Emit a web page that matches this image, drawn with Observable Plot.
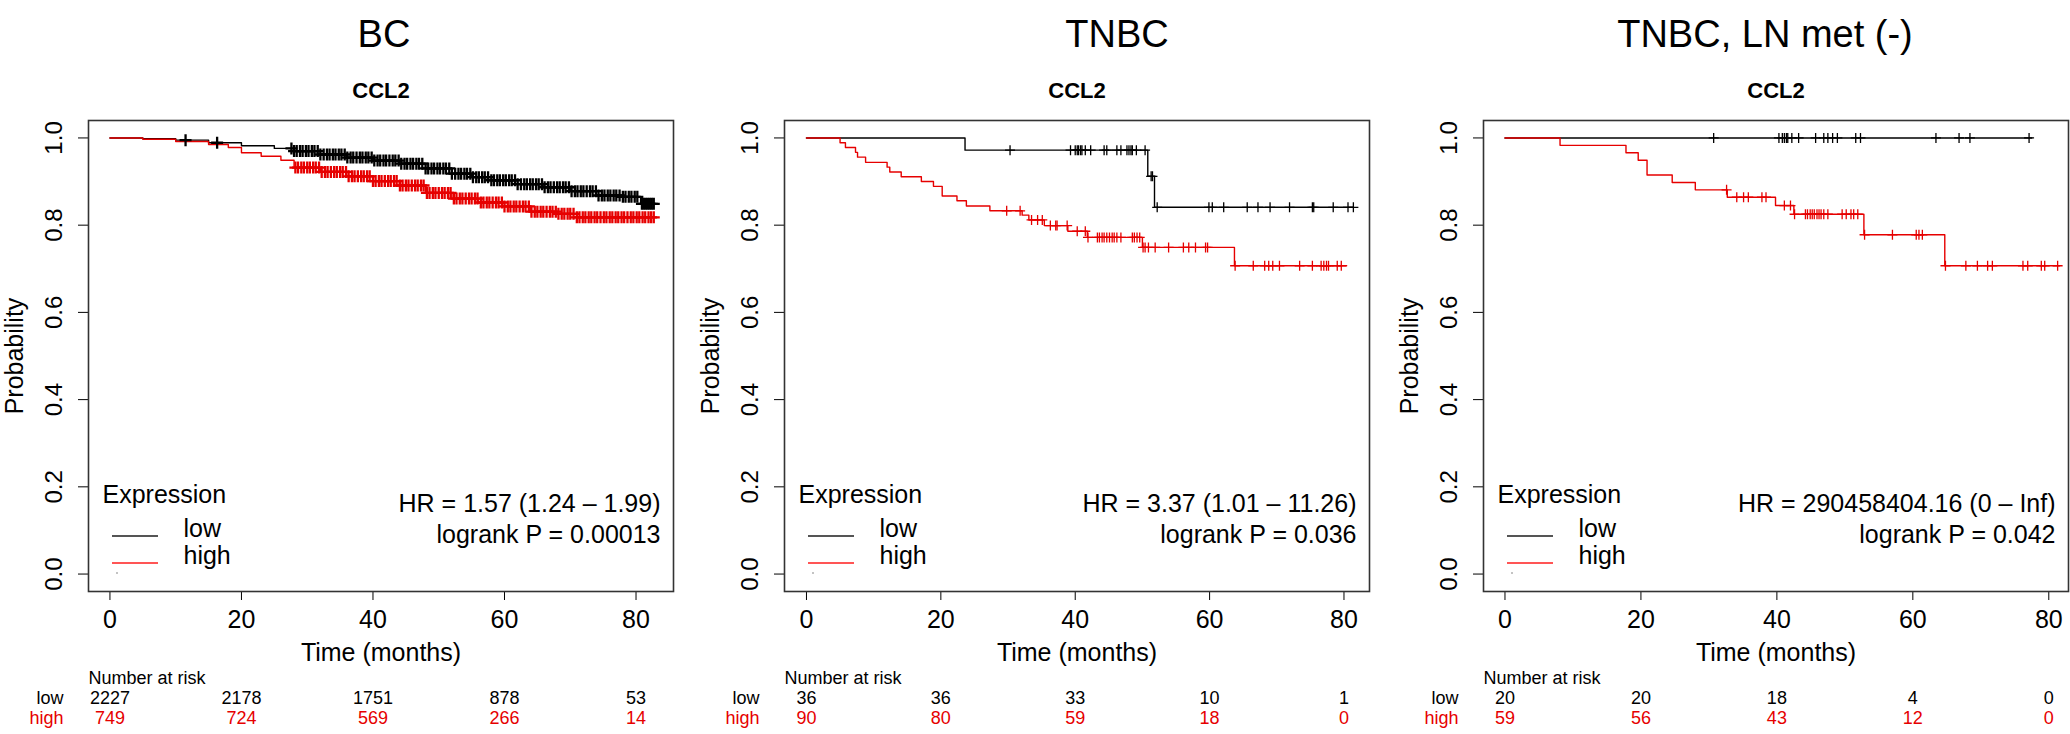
<!DOCTYPE html>
<html><head><meta charset="utf-8">
<script src="https://cdn.jsdelivr.net/npm/d3@7"></script>
<script src="https://cdn.jsdelivr.net/npm/@observablehq/plot@0.6"></script>
<style>
html,body{margin:0;padding:0;background:#fff;width:2070px;height:734px;overflow:hidden;}
#wrap{position:relative;width:2070px;height:734px;}
</style></head><body><div id="wrap"></div>
<script>
// ---------- data ----------
const timeTicks = [0, 20, 40, 60, 80];
const probTicks = [0, 0.2, 0.4, 0.6, 0.8, 1.0];
const groups = ["low", "high"];
const titles = ["BC", "TNBC", "TNBC, LN met (-)"];
const gene = "CCL2";
const hrTexts = ["HR = 1.57 (1.24 \u2013 1.99)", "HR = 3.37 (1.01 \u2013 11.26)", "HR = 290458404.16 (0 \u2013 Inf)"];
const pTexts = ["logrank P = 0.00013", "logrank P = 0.036", "logrank P = 0.042"];

// BC
const bcLow = [[0,1],[5,0.998],[10,0.995],[15,0.989],[20,0.982],[25,0.976],[28,0.970],[32,0.962],[36,0.955],[40,0.948],[44,0.941],[48,0.930],[52,0.918],[55,0.910],[58,0.903],[62,0.894],[66,0.887],[70,0.878],[74,0.868],[78,0.865],[80.7,0.849],[82.8,0.849]];
const bcHigh = [[0,1],[5,0.997],[10,0.992],[15,0.985],[18,0.978],[20,0.966],[23,0.958],[26,0.949],[28,0.932],[32,0.922],[36,0.912],[40,0.901],[44,0.891],[48,0.874],[52,0.861],[56,0.852],[60,0.843],[64,0.831],[68,0.826],[71,0.818],[82.8,0.818]];
const bcLowCens = [11.5,16.3,27.6,28.0,28.4,28.9,29.3,29.8,30.2,30.7,31.1,31.6,32.0,32.5,33.0,33.4,33.9,34.3,34.8,35.2,35.7,36.1,36.6,37.0,37.5,38.0,38.4,38.9,39.3,39.8,40.2,40.7,41.1,41.6,42.0,42.5,43.0,43.4,43.9,44.3,44.8,45.2,45.7,46.1,46.6,47.0,47.5,48.0,48.4,48.9,49.3,49.8,50.2,50.7,51.1,51.6,52.0,52.5,53.0,53.4,53.9,54.3,54.8,55.2,55.7,56.1,56.6,57.0,57.5,58.0,58.4,58.9,59.3,59.8,60.2,60.7,61.1,61.6,62.0,62.5,63.0,63.4,63.9,64.3,64.8,65.2,65.7,66.1,66.6,67.0,67.5,68.0,68.4,68.9,69.3,69.8,70.2,70.7,71.1,71.6,72.0,72.5,73.0,73.4,73.9,74.3,74.8,75.2,75.7,76.1,76.6,77.0,77.5,78.0,78.4,78.9,79.3,79.8,80.2,80.9,81.2,81.5,81.8,82.1,82.4,82.7];
const bcHighCens = [28.2,28.6,29.1,29.5,30.0,30.4,30.9,31.3,31.8,32.2,32.7,33.1,33.6,34.1,34.5,35.0,35.4,35.9,36.3,36.8,37.2,37.7,38.2,38.6,39.1,39.5,40.0,40.4,40.9,41.3,41.8,42.3,42.7,43.2,43.6,44.1,44.5,45.0,45.4,45.9,46.4,46.8,47.3,47.7,48.2,48.6,49.1,49.5,50.0,50.5,50.9,51.4,51.8,52.3,52.7,53.2,53.6,54.1,54.6,55.0,55.5,55.9,56.4,56.8,57.3,57.7,58.2,58.7,59.1,59.6,60.0,60.5,60.9,61.4,61.8,62.3,62.8,63.2,63.7,64.1,64.6,65.0,65.5,65.9,66.4,66.9,67.3,67.8,68.2,68.7,69.1,69.6,70.0,70.5,71.0,71.4,71.9,72.3,72.8,73.2,73.7,74.1,74.6,75.1,75.5,76.0,76.4,76.9,77.3,77.8,78.2,78.7,79.2,79.6,80.1,80.5,81.0,81.4,81.9,82.3,82.7];
const bcRiskLow = [2227, 2178, 1751, 878, 53];
const bcRiskHigh = [749, 724, 569, 266, 14];

// TNBC
const tnbcLow = [[0,1],[23.6,0.972],[50.8,0.912],[51.8,0.841],[81.4,0.841]];
const tnbcHigh = [[0,1],[5.0,0.989],[5.8,0.978],[7.3,0.967],[7.6,0.956],[8.8,0.944],[12.0,0.933],[12.4,0.922],[14.1,0.911],[17.1,0.900],[18.9,0.889],[20.2,0.867],[22.4,0.856],[23.8,0.844],[27.3,0.833],[32.1,0.823],[33.1,0.812],[35.4,0.799],[38.9,0.786],[41.8,0.772],[50.0,0.749],[63.7,0.707],[80.4,0.707]];
const tnbcLowCens = [30.3,39.3,40.0,40.3,40.5,40.8,41.0,41.5,42.3,44.3,44.7,46.2,46.8,47.7,48.0,48.3,48.5,49.1,50.4,51.3,51.5,52.2,59.9,60.4,62.1,65.6,67.2,69.0,71.9,75.3,75.5,78.4,80.6,81.4];
const tnbcHighCens = [29.8,31.8,33.5,34.4,35.1,36.3,37.1,37.3,38.8,40.3,41.5,41.9,43.3,43.6,44.0,44.3,44.7,45.1,45.5,45.8,46.2,46.8,48.5,48.8,49.2,49.6,50.1,50.4,50.9,51.9,53.9,56.1,56.9,57.9,59.4,59.7,63.8,66.5,68.2,68.8,69.4,70.4,73.4,75.3,76.6,77.0,77.4,77.7,79.0,79.6];
const tnbcRiskLow = [36, 36, 33, 10, 1];
const tnbcRiskHigh = [90, 80, 59, 18, 0];

// TNBC, LN met (-)
const lnLow = [[0,1],[77.5,1]];
const lnHigh = [[0,1],[8.1,0.983],[17.8,0.966],[19.6,0.949],[20.9,0.915],[24.6,0.898],[28.0,0.881],[32.7,0.864],[39.8,0.845],[42.5,0.825],[52.8,0.778],[64.7,0.707],[81.6,0.707]];
const lnLowCens = [30.7,40.3,40.8,41.1,41.4,41.6,42.2,43.2,45.7,46.9,47.5,48.2,48.9,51.6,52.3,63.4,66.8,68.4,77.1];
const lnHighCens = [32.6,34.1,35.1,35.8,37.8,38.4,41.1,42.0,42.6,44.2,44.5,44.9,45.2,45.5,45.9,46.2,46.5,46.9,47.5,49.6,50.2,50.9,51.3,51.9,52.9,57.0,60.5,60.9,61.4,64.8,67.8,69.5,71.0,71.7,76.2,76.9,78.9,79.4,81.3];
const lnRiskLow = [20, 20, 18, 4, 0];
const lnRiskHigh = [59, 56, 43, 12, 0];

// ---------- drawing ----------
const RED = "#e60000";
const FONT = "'Liberation Sans', Arial, Helvetica, sans-serif";
const plusSymbol = {draw(ctx, size) {
  const r = Math.sqrt(size / Math.PI);
  ctx.moveTo(-r, 0); ctx.lineTo(r, 0); ctx.moveTo(0, -r); ctx.lineTo(0, r);
}};
function stepAt(curve, t) {
  let s = curve[0][1];
  for (const [ct, cs] of curve) { if (ct <= t) s = cs; else break; }
  return s;
}

const panels = [
  {left: 0,    xDomain: [-3.26, 85.7], titleDx: 3,   censR: 6, censW: 2.3, low: bcLow,   high: bcHigh,   lowC: bcLowCens,   highC: bcHighCens,   rl: bcRiskLow,   rh: bcRiskHigh},
  {left: 696,  xDomain: [-3.27, 83.8], titleDx: 40,  censR: 5, censW: 1.3, low: tnbcLow, high: tnbcHigh, lowC: tnbcLowCens, highC: tnbcHighCens, rl: tnbcRiskLow, rh: tnbcRiskHigh},
  {left: 1395, xDomain: [-3.16, 82.9], titleDx: -11, censR: 5, censW: 1.3, low: lnLow,   high: lnHigh,   lowC: lnLowCens,   highC: lnHighCens,   rl: lnRiskLow,   rh: lnRiskHigh}
];

const wrap = document.getElementById("wrap");
panels.forEach((p, i) => {
  const series = [
    ...p.low.map(([t, s]) => ({t, s, g: "low"})),
    ...p.high.map(([t, s]) => ({t, s, g: "high"}))
  ];
  const cens = [
    ...p.lowC.map(t => ({t, s: stepAt(p.low, t), g: "low"})),
    ...p.highC.map(t => ({t, s: stepAt(p.high, t), g: "high"}))
  ];
  const legendSwatches = (index, scales, values, dims) => {
    const g = d3.create("svg:g");
    const x0 = dims.marginLeft, yb = dims.height - dims.marginBottom;
    g.append("line").attr("x1", x0 + 24).attr("x2", x0 + 70).attr("y1", yb - 55).attr("y2", yb - 55)
      .attr("stroke", "#555").attr("stroke-width", 2);
    g.append("line").attr("x1", x0 + 24).attr("x2", x0 + 70).attr("y1", yb - 28).attr("y2", yb - 28)
      .attr("stroke", "#f55").attr("stroke-width", 2);
    g.append("circle").attr("cx", x0 + 29).attr("cy", yb - 18).attr("r", 0.8).attr("fill", "#777");
    return g.node();
  };
  const chart = Plot.plot({
    width: 696, height: 734,
    marginLeft: 88, marginRight: 23, marginTop: 120, marginBottom: 143,
    style: {fontFamily: FONT, fontSize: "25px", color: "#000", background: "transparent", overflow: "visible"},
    x: {domain: p.xDomain, ticks: timeTicks, tickSize: 9, tickPadding: 10, label: null},
    y: {domain: [-0.04, 1.04], ticks: probTicks, tickSize: 10, tickFormat: () => "", label: null},
    color: {domain: groups, range: ["#000", RED]},
    marks: [
      Plot.frame({stroke: "#333", strokeWidth: 1.6}),
      Plot.line(series, {x: "t", y: "s", z: "g", stroke: "g", curve: "step-after", strokeWidth: 1.4}),
      Plot.dot(cens, {x: "t", y: "s", stroke: "g", symbol: plusSymbol, r: p.censR, strokeWidth: p.censW, fill: "none"}),
      // y tick labels (rotated as in R)
      Plot.text(probTicks, {y: d => d, text: d => d.toFixed(1), frameAnchor: "left", dx: -34, rotate: -90, textAnchor: "middle", lineAnchor: "middle", fontSize: 24}),
      Plot.text(["Probability"], {text: d => d, frameAnchor: "left", dx: -74, rotate: -90, textAnchor: "middle", lineAnchor: "middle", fontSize: 25}),
      Plot.text(["Time (months)"], {text: d => d, frameAnchor: "bottom", dy: 69, fontSize: 25}),
      // titles
      Plot.text([titles[i]], {text: d => d, frameAnchor: "top", dy: -100, dx: p.titleDx, fontSize: 38}),
      Plot.text([gene], {text: d => d, frameAnchor: "top", dy: -38, fontSize: 22, fontWeight: "bold"}),
      // HR / p-value
      Plot.text([hrTexts[i]], {text: d => d, frameAnchor: "bottom-right", dx: -13, dy: -80, textAnchor: "end", fontSize: 25}),
      Plot.text([pTexts[i]], {text: d => d, frameAnchor: "bottom-right", dx: -13, dy: -49, textAnchor: "end", fontSize: 25}),
      // legend
      Plot.text(["Expression"], {text: d => d, frameAnchor: "bottom-left", dx: 14, dy: -89, textAnchor: "start", fontSize: 25}),
      Plot.text([groups[0]], {text: d => d, frameAnchor: "bottom-left", dx: 95, dy: -55, textAnchor: "start", fontSize: 25}),
      Plot.text([groups[1]], {text: d => d, frameAnchor: "bottom-left", dx: 95, dy: -28, textAnchor: "start", fontSize: 25}),
      legendSwatches,
      // number at risk
      Plot.text(["Number at risk"], {text: d => d, frameAnchor: "bottom-left", dx: 0, dy: 92, textAnchor: "start", fontSize: 18}),
      Plot.text([groups[0]], {text: d => d, frameAnchor: "bottom-left", dx: -25, dy: 112, textAnchor: "end", fontSize: 18}),
      Plot.text([groups[1]], {text: d => d, frameAnchor: "bottom-left", dx: -25, dy: 132, textAnchor: "end", fontSize: 18, fill: RED}),
      Plot.text(timeTicks, {x: d => d, text: (d, k) => String(p.rl[k]), frameAnchor: "bottom", dy: 112, fontSize: 18}),
      Plot.text(timeTicks, {x: d => d, text: (d, k) => String(p.rh[k]), frameAnchor: "bottom", dy: 132, fontSize: 18, fill: RED})
    ]
  });
  chart.style.position = "absolute";
  chart.style.left = p.left + "px";
  chart.style.top = "0px";
  chart.style.maxWidth = "none";
  wrap.appendChild(chart);
});
</script></body></html>
